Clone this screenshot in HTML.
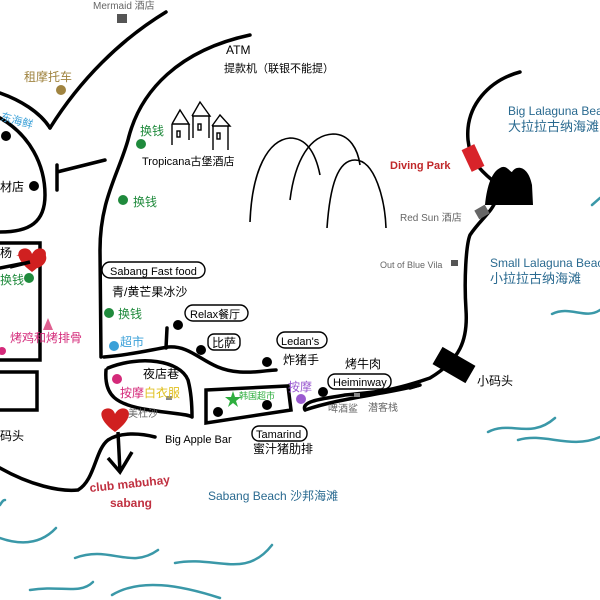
<!DOCTYPE html>
<html><head><meta charset="utf-8"><style>
html,body{margin:0;padding:0;background:#fff}
svg{display:block}
text{font-family:"Liberation Sans","Noto Sans CJK SC",sans-serif}
</style></head><body>
<svg width="600" height="600" viewBox="0 0 600 600" xmlns="http://www.w3.org/2000/svg">
<g fill="none" stroke="#000" stroke-width="3.5" stroke-linecap="round">
<path d="M50,128 C80,80 120,40 166,12"/>
<path d="M0,93 C20,100 40,112 50,128"/>
<path d="M0,118 C30,135 45,165 45,195 C45,222 30,232 0,232"/>
<path d="M57,172 L105,160 M57,165 L57,190"/>
<path d="M250,35 C180,50 140,90 128,140 C118,175 100,200 100,250 L101,357"/>
<path d="M104,357 C130,355 150,350 168,347 C195,345 205,370 240,372 C258,373 268,370 276,370"/>
<path d="M166,348 L167,328"/>
<path d="M106,370 C104,395 115,405 150,410 C175,414 188,414 192,417 M108,368 C140,355 180,360 188,380 C192,395 192,410 192,417"/>
<path d="M206,390 L288,386 L291,410 L206,423 Z"/>
<path d="M305,410 C300,400 330,398 345,395 C380,392 395,390 430,378 M430,378 C460,360 468,340 466,310 C464,280 466,245 470,235 C480,220 492,212 496,200"/>
<path d="M420,385 C500,390 550,400 600,393" stroke-width="0"/>
<path d="M520,72 C490,80 465,105 468,140 C470,160 480,170 492,180"/>
<path d="M0,360 L40,360 L40,243 L0,243 M0,372 L37,372 L37,410 L0,410"/>
<path d="M0,268 L30,262"/>
<path d="M0,468 C30,485 60,492 78,490 C95,480 95,450 108,440 C120,432 140,433 155,437"/>
<path d="M410,388 L420,385"/>
</g>
<!-- mountains -->
<g fill="none" stroke="#000" stroke-width="1.6">
<path d="M250,222 C252,170 268,140 290,138 C305,138 315,150 320,175"/>
<path d="M290,200 C295,160 310,135 333,134 C350,134 358,150 360,165"/>
<path d="M327,228 C330,185 338,160 355,160 C375,160 385,200 386,228"/>
</g>
<!-- castle -->
<g fill="none" stroke="#000" stroke-width="1.4">
<path d="M172,124 L180,110 L189,124 L172,124 M172,124 L172,145 M189,124 L189,140"/>
<path d="M192,116 L200,102 L210,116 L192,116 M193,116 L193,138 M209,116 L209,138"/>
<path d="M212,126 L220,115 L230,126 L212,126 M213,126 L213,150 M228,126 L228,150"/>
<rect x="177" y="131" width="3" height="6"/><rect x="198" y="124" width="3" height="6"/><rect x="217" y="133" width="3" height="6"/>
</g>
<!-- waves -->
<g fill="none" stroke="#3a98a8" stroke-width="2.5" stroke-linecap="round">
<path d="M0,538 C20,545 40,545 56,528"/>
<path d="M75,558 C110,545 130,570 158,550"/>
<path d="M175,563 C215,555 245,580 272,545"/>
<path d="M30,590 C60,585 80,595 93,582"/>
<path d="M112,595 C140,578 180,585 220,598"/>
<path d="M0,505 C3,500 4,500 5,500"/>
<path d="M488,432 C510,420 530,440 555,418"/>
<path d="M518,440 C545,432 570,450 600,437"/>
<path d="M552,314 C570,305 585,320 600,310"/>
<path d="M592,205 L600,198"/>
</g>
<!-- right coast line -->
<path d="M305,410 C340,398 380,395 420,385" fill="none" stroke="#000" stroke-width="3.5"/>
<!-- markers -->
<rect x="117" y="14" width="10" height="9" fill="#555"/>
<rect x="466" y="146" width="14" height="24" fill="#d8232a" transform="rotate(-25 473 158)"/>
<path d="M485,205 C487,185 492,172 500,168 C506,164 510,172 512,172 C516,165 528,165 532,185 L533,205 Z" fill="#000"/>
<rect x="476" y="207" width="12" height="10" fill="#666" transform="rotate(-30 482 212)"/>
<rect x="451" y="260" width="7" height="6" fill="#555"/>
<rect x="435" y="355" width="38" height="20" fill="#000" transform="rotate(30 454 365)"/>
<g fill="#000">
<circle cx="34" cy="186" r="5"/><circle cx="6" cy="136" r="5"/>
<circle cx="178" cy="325" r="5"/><circle cx="201" cy="350" r="5"/>
<circle cx="267" cy="362" r="5"/><circle cx="323" cy="392" r="5"/>
<circle cx="218" cy="412" r="5"/><circle cx="267" cy="405" r="5"/>
</g>
<g fill="#1f8a3c"><circle cx="141" cy="144" r="5"/><circle cx="123" cy="200" r="5"/><circle cx="109" cy="313" r="5"/><circle cx="29" cy="278" r="5"/></g>
<circle cx="61" cy="90" r="5" fill="#a08440"/>
<circle cx="114" cy="346" r="5" fill="#3aa0d8"/>
<circle cx="117" cy="379" r="5" fill="#d42a7a"/>
<circle cx="2" cy="351" r="4" fill="#d42a7a"/>
<path d="M43,330 L48,318 L53,330 Z" fill="#e06090"/>
<circle cx="301" cy="399" r="5" fill="#9a5ad0"/>
<path d="M231,397 L233,391 L235,397 L241,397 L236,401 L238,407 L233,403 L228,407 L230,401 L225,397Z" fill="#2eae3e"/>
<rect x="166" y="396" width="6" height="4" fill="#888"/>
<rect x="354" y="393" width="6" height="4" fill="#888"/>
<path d="M32,268 C25,255 12,255 18,255 C22,248 30,250 32,256 C34,250 44,248 46,256 C48,262 40,270 32,268Z" fill="#d02020"/>
<path d="M32,272 C18,262 15,252 22,249 C27,247 31,250 32,254 C34,250 38,247 43,249 C49,252 46,262 32,272Z" fill="#d02020"/>
<path d="M115,432 C101,422 98,412 105,409 C110,407 114,410 115,414 C117,410 121,407 126,409 C132,412 129,422 115,432Z" fill="#d02020"/>
<path d="M118,432 L120,472 M108,458 L120,472 L132,452" fill="none" stroke="#000" stroke-width="3.5"/>
<path d="M10,267 L30,262" stroke="#000" stroke-width="3.5"/>
<!-- pill labels -->
<g fill="none" stroke="#000" stroke-width="1.4">
<rect x="102" y="262" width="103" height="16" rx="8"/>
<rect x="185" y="305" width="63" height="16" rx="8"/>
<rect x="208" y="334" width="32" height="16" rx="6"/>
<rect x="277" y="332" width="50" height="16" rx="8"/>
<rect x="328" y="374" width="63" height="15" rx="7"/>
<rect x="252" y="426" width="55" height="15" rx="7"/>
</g>
<g font-size="11" fill="#000">
<text x="110" y="275">Sabang Fast food</text>
<text x="190" y="318">Relax餐厅</text>
<text x="212" y="347" font-size="12">比萨</text>
<text x="281" y="345">Ledan's</text>
<text x="333" y="386">Heiminway</text>
<text x="256" y="438">Tamarind</text>
<text x="112" y="296" font-size="12">青/黄芒果冰沙</text>
<text x="283" y="364" font-size="12">炸猪手</text>
<text x="345" y="368" font-size="12">烤牛肉</text>
<text x="253" y="453" font-size="12">蜜汁猪肋排</text>
<text x="143" y="378" font-size="12">夜店巷</text>
<text x="165" y="443" font-size="11">Big Apple Bar</text>
<text x="226" y="54" font-size="12">ATM</text>
<text x="224" y="72" font-size="11">提款机（联银不能提）</text>
<text x="142" y="165" font-size="11">Tropicana古堡酒店</text>
<text x="0" y="191" font-size="12">材店</text>
<text x="0" y="440" font-size="12">码头</text>
<text x="477" y="385" font-size="12">小码头</text>
<text x="0" y="257" font-size="12">杨</text>
</g>
<g font-size="10" fill="#666">
<text x="93" y="9">Mermaid 酒店</text>
<text x="400" y="221">Red Sun 酒店</text>
<text x="380" y="268" font-size="9">Out of Blue Vila</text>
<text x="128" y="417" font-size="10">美杜沙</text>
<text x="328" y="412" font-size="10">啤酒鲨</text>
<text x="368" y="411" font-size="10">潜客栈</text>
</g>
<text x="24" y="81" font-size="12" fill="#a08440">租摩托车</text>
<text x="0" y="120" font-size="11" fill="#3aa0d8" transform="rotate(15 0 120)">东海鲜</text>
<g font-size="12" fill="#1f8a3c">
<text x="140" y="135">换钱</text><text x="133" y="206">换钱</text>
<text x="118" y="318">换钱</text><text x="0" y="284">换钱</text>
</g>
<text x="120" y="346" font-size="12" fill="#3aa0d8">超市</text>
<text x="10" y="342" font-size="12" fill="#d42a7a">烤鸡和烤排骨</text>
<text x="120" y="397" font-size="12" fill="#d42a7a">按摩<tspan fill="#e0c020">白衣服</tspan></text>
<text x="239" y="399" font-size="9" fill="#2eae3e">韩国超市</text>
<text x="288" y="391" font-size="12" fill="#9a5ad0">按摩</text>
<text x="390" y="169" font-size="11" font-weight="bold" fill="#c0282a">Diving Park</text>
<g fill="#c03040" font-weight="bold" font-size="12">
<text x="90" y="492" transform="rotate(-6 90 492)">club mabuhay</text>
<text x="110" y="507">sabang</text>
</g>
<g fill="#2a6a90">
<text x="208" y="500" font-size="12">Sabang Beach  沙邦海滩</text>
<text x="508" y="115" font-size="12">Big Lalaguna Beach</text>
<text x="508" y="131" font-size="13">大拉拉古纳海滩</text>
<text x="490" y="267" font-size="12">Small Lalaguna Beach</text>
<text x="490" y="283" font-size="13">小拉拉古纳海滩</text>
</g>
</svg>
</body></html>
